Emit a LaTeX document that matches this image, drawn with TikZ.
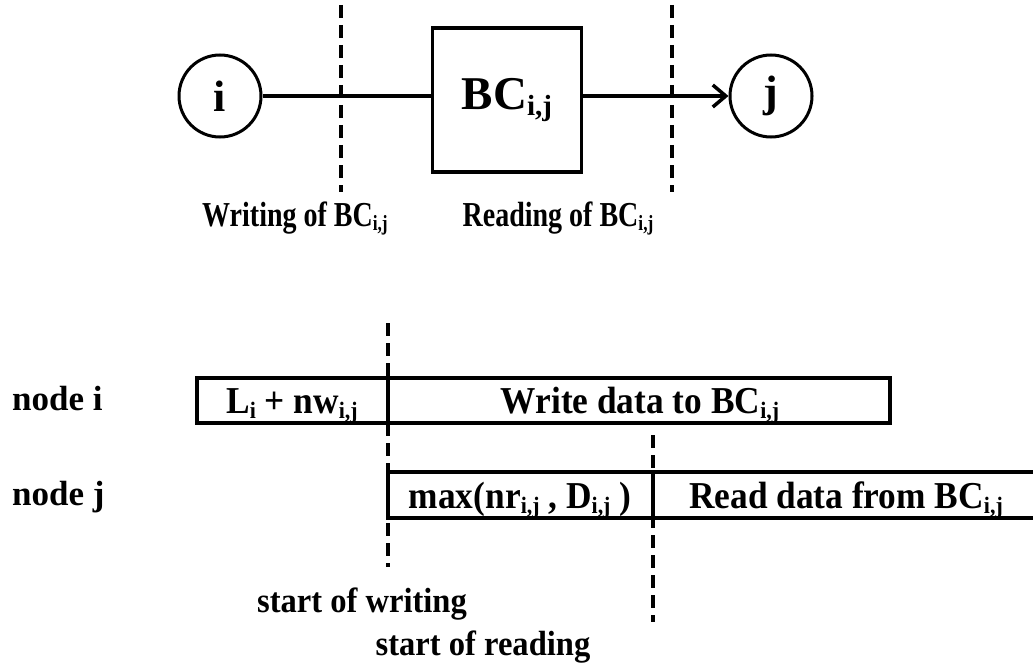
\documentclass[tikz,border=0pt]{standalone}
\usepackage{fontspec}
\setmainfont{Liberation Serif}
\newfontfamily\narrowa{Liberation Serif}[FakeStretch=0.80]
\newfontfamily\narrowb{Liberation Serif}[FakeStretch=0.93]
\newfontfamily\narrowc{Liberation Serif}[FakeStretch=0.93]
\usetikzlibrary{arrows.meta}
\newcommand{\sbs}[1]{\raisebox{-0.3ex}{\scalebox{0.62}{#1}}}
\tikzset{
  ln/.style={line width=3.5pt},
  dsh/.style={line width=3.8pt, dash pattern=on 13pt off 7pt},
  circ/.style={circle, draw, line width=3pt, minimum size=82pt, inner sep=0pt, font=\fontsize{44}{44}\selectfont\bfseries},
  lbl/.style={anchor=base, inner sep=0pt, font=\fontsize{35}{35}\selectfont\narrowa\bfseries},
  side/.style={anchor=base west, inner sep=0pt, font=\fontsize{35}{35}\selectfont\bfseries},
  bartxt/.style={anchor=base, inner sep=0pt, font=\fontsize{38}{38}\selectfont\narrowb\bfseries},
  stlbl/.style={anchor=base, inner sep=0pt, font=\fontsize{35}{35}\selectfont\narrowc\bfseries},
}
\begin{document}
\begin{tikzpicture}[x=1pt,y=-1pt]
\useasboundingbox (0,0) rectangle (1033,666);
% top part
\node[circ] (ni) at (220,96) {i};
\node[circ] (nj) at (771,96) {j};
\node[draw, line width=3.5pt, minimum width=149pt, minimum height=144pt, inner sep=0pt,
      font=\fontsize{47}{47}\selectfont\bfseries] (bc) at (507,100) {BC\sbs{i,j}};
\draw[ln] (ni) -- (bc.west |- ni);
\draw[ln, -{Straight Barb[length=13pt,width=22pt,line width=3.5pt]}] (bc.east |- nj) -- (nj);
\coordinate (d1t) at (341,5);  \coordinate (d1b) at (341,192);
\coordinate (d2t) at (672,5);  \coordinate (d2b) at (672,192);
\draw[dsh] (d1t) -- (d1b);
\draw[dsh] (d2t) -- (d2b);
\node[lbl] (wr) at (295,226) {Writing of BC\sbs{i,j}};
\node[lbl] (rd) at (558,226) {Reading of BC\sbs{i,j}};
% bottom part
\node[side] (li) at (12,410) {node i};
\node[side] (lj) at (12,505) {node j};
\draw[ln] (197,378) rectangle (890,423);
\draw[ln] (388,378) -- (388,423);
\node[bartxt] (t1) at (292,413) {L\sbs{i} + nw\sbs{i,j}};
\node[bartxt] (t2) at (640,413) {Write data to BC\sbs{i,j}};
\draw[ln] (1036,472) -- (388,472) -- (388,518) -- (1036,518);
\draw[ln] (653,472) -- (653,518);
\node[bartxt] (t3) at (520,508) {max(nr\sbs{i,j} , D\sbs{i,j} )};
\node[bartxt] (t4) at (846,508) {Read data from BC\sbs{i,j}};
\coordinate (e1t) at (388,323); \coordinate (e1b) at (388,567);
\coordinate (e2t) at (653,435); \coordinate (e2b) at (653,622);
\draw[dsh] (e1t) -- (e1b);
\draw[dsh] (e2t) -- (e2b);
\node[stlbl] (sw) at (362,612) {start of writing};
\node[stlbl] (sr) at (483,655) {start of reading};
\end{tikzpicture}
\end{document}
